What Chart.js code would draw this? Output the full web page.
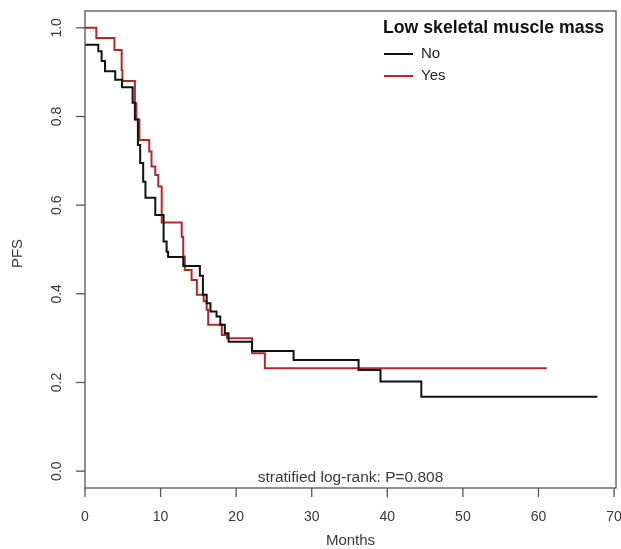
<!DOCTYPE html>
<html>
<head>
<meta charset="utf-8">
<script src="https://cdn.jsdelivr.net/npm/chart.js@4"></script>
<style>
  body { margin: 0; background: #fff; }
</style>
</head>
<body>
<canvas id="km" width="621" height="549"></canvas>
<script>
// Kaplan-Meier steps: time of change and PFS after it
const noMonths = [0, 1.76, 2.2, 2.65, 4.0, 4.9, 6.3, 6.6, 7.0, 7.3, 7.7, 8.0, 9.3, 10.4, 10.8, 11.0, 13.0, 15.2, 15.6, 16.1, 16.6, 17.4, 17.9, 18.5, 19.0, 22.1, 27.6, 36.2, 39.1, 44.5, 67.8];
const noPFS = [0.962, 0.947, 0.925, 0.902, 0.883, 0.866, 0.831, 0.793, 0.736, 0.695, 0.653, 0.617, 0.578, 0.518, 0.495, 0.483, 0.463, 0.441, 0.398, 0.379, 0.36, 0.349, 0.33, 0.311, 0.292, 0.271, 0.251, 0.228, 0.202, 0.168, 0.168];

const yesMonths = [0, 1.5, 3.9, 4.85, 4.95, 6.6, 6.8, 7.2, 8.5, 8.8, 9.3, 9.7, 10.15, 12.8, 13.0, 13.2, 14.1, 14.8, 15.7, 16.1, 16.3, 18.1, 18.8, 22.1, 23.8, 61.1];
const yesPFS = [1.0, 0.977, 0.95, 0.905, 0.88, 0.83, 0.793, 0.747, 0.721, 0.687, 0.668, 0.642, 0.561, 0.529, 0.484, 0.454, 0.431, 0.398, 0.383, 0.364, 0.33, 0.307, 0.3, 0.266, 0.232, 0.232];

const groupLabels = ['No', 'Yes'];
const groupColors = ['#111111', '#b3282d'];
const legendTitle = 'Low skeletal muscle mass';

const xTicks = [0, 10, 20, 30, 40, 50, 60, 70];
const yTicks = [0, 0.2, 0.4, 0.6, 0.8, 1.0];
const yTickLabels = ['0.0', '0.2', '0.4', '0.6', '0.8', '1.0'];
const xTitle = 'Months';
const yTitle = 'PFS';
const note = 'stratified log-rank: P=0.808';

const toPoints = (xs, ys) => xs.map((t, i) => ({ x: t, y: ys[i] }));

const FONT = '"Liberation Sans", Arial, sans-serif';

// draws the R-style box, axes, titles and legend
const rPlot = {
    id: 'rPlot',
    afterDraw(chart) {
        const { ctx, chartArea: a, scales: { x, y } } = chart;
        ctx.save();
        ctx.strokeStyle = '#555';
        ctx.lineWidth = 1.3;
        ctx.strokeRect(a.left, a.top, a.right - a.left, a.bottom - a.top);

        ctx.fillStyle = '#3a3a3a';
        ctx.font = '14px ' + FONT;
        ctx.textAlign = 'center';
        ctx.textBaseline = 'middle';

        xTicks.forEach((v) => {
            const px = x.getPixelForValue(v);
            ctx.beginPath();
            ctx.moveTo(px, a.bottom);
            ctx.lineTo(px, a.bottom + 9);
            ctx.stroke();
            ctx.fillText(String(v), px, a.bottom + 29);
        });

        yTicks.forEach((v, i) => {
            const py = y.getPixelForValue(v);
            ctx.beginPath();
            ctx.moveTo(a.left - 9, py);
            ctx.lineTo(a.left, py);
            ctx.stroke();
            ctx.save();
            ctx.translate(a.left - 28, py);
            ctx.rotate(-Math.PI / 2);
            ctx.fillText(yTickLabels[i], 0, 0);
            ctx.restore();
        });

        ctx.font = '15px ' + FONT;
        ctx.fillText(xTitle, (a.left + a.right) / 2, a.bottom + 53);
        ctx.save();
        ctx.translate(18, (a.top + a.bottom) / 2 + 4);
        ctx.rotate(-Math.PI / 2);
        ctx.fillText(yTitle, 0, 0);
        ctx.restore();

        // p-value note along the bottom
        ctx.font = '15.5px ' + FONT;
        ctx.fillText(note, (a.left + a.right) / 2, a.bottom - 10);

        // legend
        ctx.textAlign = 'left';
        ctx.fillStyle = '#111';
        ctx.font = 'bold 17.7px ' + FONT;
        ctx.fillText(legendTitle, 383, 28);
        ctx.font = '15px ' + FONT;
        groupLabels.forEach((lab, i) => {
            const ly = 54 + i * 22;
            ctx.strokeStyle = groupColors[i];
            ctx.lineWidth = 2;
            ctx.beginPath();
            ctx.moveTo(384, ly);
            ctx.lineTo(413, ly);
            ctx.stroke();
            ctx.fillStyle = '#222';
            ctx.fillText(lab, 421, ly);
        });
        ctx.restore();
    }
};

new Chart(document.getElementById('km'), {
    type: 'line',
    data: {
        datasets: [
            {
                label: groupLabels[0],
                data: toPoints(noMonths, noPFS),
                borderColor: groupColors[0],
                borderWidth: 2,
                stepped: 'before',
                pointRadius: 0,
                fill: false,
            },
            {
                label: groupLabels[1],
                data: toPoints(yesMonths, yesPFS),
                borderColor: groupColors[1],
                borderWidth: 2,
                stepped: 'before',
                pointRadius: 0,
                fill: false,
            },
        ],
    },
    options: {
        responsive: false,
        animation: false,
        layout: { padding: { left: 85, right: 5, top: 11, bottom: 61 } },
        scales: {
            x: { type: 'linear', min: 0, max: 70.26, display: false },
            y: { type: 'linear', min: -0.038, max: 1.038, display: false },
        },
        plugins: {
            legend: { display: false },
            tooltip: { enabled: false },
        },
    },
    plugins: [rPlot],
});
</script>
</body>
</html>
